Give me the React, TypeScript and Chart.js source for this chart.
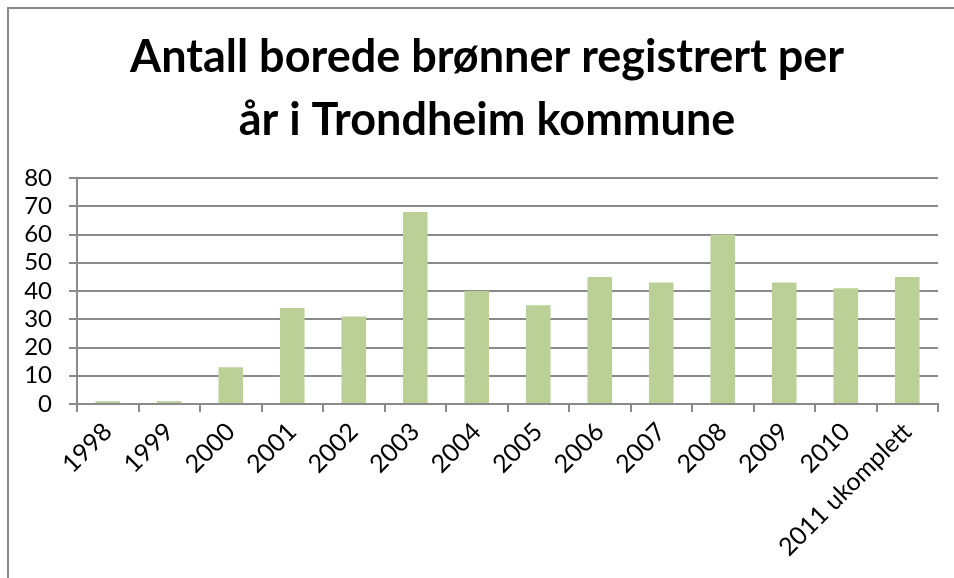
import React, { useEffect, useRef } from "react";
import { Chart, registerables } from "chart.js";

Chart.register(...registerables);

const categories = [
  "1998", "1999", "2000", "2001", "2002", "2003", "2004",
  "2005", "2006", "2007", "2008", "2009", "2010", "2011 ukomplett",
];
const wells = [1, 1, 13, 34, 31, 68, 40, 35, 45, 43, 60, 43, 41, 45];
const titleLines = ["Antall borede brønner registrert per", "år i Trondheim kommune"];
const yMin = 0;
const yMax = 80;
const yStep = 10;

const shiftTitle = {
  id: "shiftTitle",
  afterLayout(chart: any) {
    const t = chart.titleBlock;
    if (t) {
      t.left = 36;
      t.width = t.right - t.left;
    }
  },
};

export default function App() {
  const ref = useRef<HTMLCanvasElement | null>(null);

  useEffect(() => {
    const canvas = ref.current;
    if (!canvas) return;
    const grid = "#8a8a8a";
    const chart = new Chart(canvas, {
      type: "bar",
      data: {
        labels: categories,
        datasets: [
          {
            data: wells,
            backgroundColor: "#bbd097",
            borderWidth: 0,
            barPercentage: 0.4,
            categoryPercentage: 1,
          },
        ],
      },
      plugins: [shiftTitle],
      options: {
        responsive: false,
        animation: false,
        layout: { padding: { left: 0, right: 16, top: 0, bottom: 0 } },
        plugins: {
          legend: { display: false },
          tooltip: { enabled: false },
          title: {
            display: true,
            text: titleLines,
            color: "#000",
            font: { family: "Lato", size: 45, weight: "bold", lineHeight: 1.4 },
            padding: { top: 26, bottom: 26 },
          },
        },
        scales: {
          x: {
            offset: true,
            grid: {
              offset: true,
              drawOnChartArea: false,
              drawTicks: true,
              tickLength: 8,
              color: grid,
              lineWidth: 2,
            },
            border: { display: true, color: grid, width: 2 },
            ticks: {
              color: "#000",
              font: { family: "Lato", size: 25 },
              maxRotation: 45,
              minRotation: 45,
              padding: 5,
              autoSkip: false,
            },
            afterFit: (scale: any) => {
              scale.height = 174;
            },
          },
          y: {
            min: yMin,
            max: yMax,
            grid: { color: grid, lineWidth: 2, tickLength: 8, drawTicks: true },
            border: { display: true, color: grid, width: 2 },
            ticks: {
              stepSize: yStep,
              autoSkip: false,
              color: "#000",
              font: { family: "Lato", size: 24 },
              padding: 17,
            },
            afterFit: (scale: any) => {
              scale.width = 77;
            },
          },
        },
      },
    });
    return () => chart.destroy();
  }, []);

  return (
    <>
      <div
        style={{
          position: "fixed",
          left: 7,
          top: 7,
          width: 1200,
          height: 900,
          borderLeft: "2px solid #898989",
          borderTop: "2px solid #898989",
          background: "#fff",
        }}
      />
      <canvas
        ref={ref}
        width={954}
        height={578}
        style={{ position: "fixed", left: 0, top: 0, width: 954, height: 578 }}
      />
    </>
  );
}
